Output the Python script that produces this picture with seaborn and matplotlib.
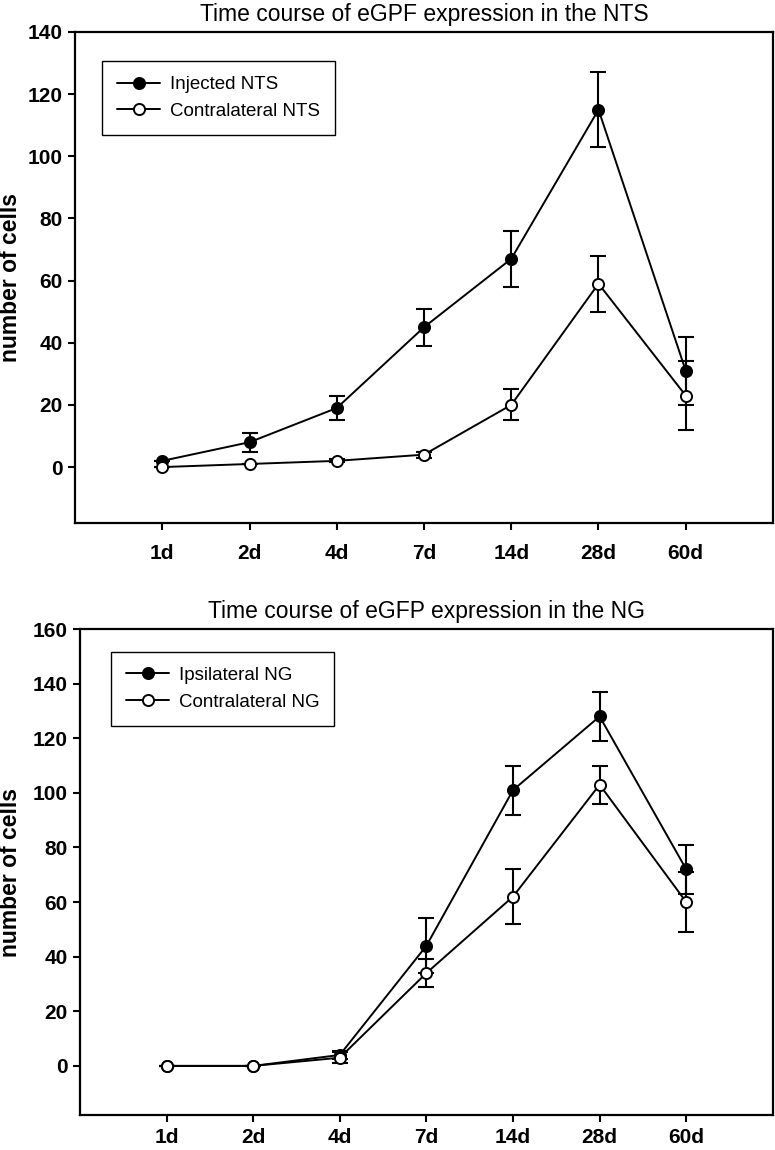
import numpy as np
import pandas as pd
import seaborn as sns
import matplotlib
matplotlib.use("Agg")
import matplotlib.pyplot as plt

# time points
days = ["1d", "2d", "4d", "7d", "14d", "28d", "60d"]

# NTS panel
injected_nts = [2, 8, 19, 45, 67, 115, 31]
injected_nts_err = [0, 3, 4, 6, 9, 12, 11]
contra_nts = [0, 1, 2, 4, 20, 59, 23]
contra_nts_err = [0, 0, 0.5, 1, 5, 9, 11]

# NG panel
ipsi_ng = [0, 0, 4, 44, 101, 128, 72]
ipsi_ng_err = [0, 0, 1.5, 10, 9, 9, 9]
contra_ng = [0, 0, 3, 34, 62, 103, 60]
contra_ng_err = [0, 0, 2, 5, 10, 7, 11]

sns.set_theme(style="ticks")
plt.rcParams['font.family'] = ['Liberation Sans', 'DejaVu Sans']
plt.rcParams['axes.linewidth'] = 1.6
for key in ['text.color', 'axes.labelcolor', 'xtick.color', 'ytick.color',
            'axes.edgecolor']:
    plt.rcParams[key] = 'black'


def draw_panel(ax, title, series, ymax, legend_anchor, xpad):
    x = np.arange(len(days))
    for label, vals, errs, face in series:
        df = pd.DataFrame({'day': x, 'cells': vals})
        ax.errorbar(x, vals, yerr=errs, fmt='none', ecolor='black',
                    elinewidth=1.5, capsize=5.5, capthick=1.5, zorder=2)
        sns.lineplot(data=df, x='day', y='cells', ax=ax, color='black',
                     marker='o', markersize=8, markerfacecolor=face,
                     markeredgecolor='black', markeredgewidth=1.4,
                     linewidth=1.4, label=label, zorder=3)
    ax.set_xlim(-1, 7)
    ax.set_ylim(-18, ymax)
    ax.set_yticks(np.arange(0, ymax + 1, 20))
    ax.set_xticks(x)
    ax.set_xticklabels(days)
    ax.set_xlabel('')
    ax.set_ylabel('number of cells', fontsize=16.5, fontweight='bold')
    ax.set_title(title, fontsize=16.5, pad=8)
    ax.tick_params(axis='y', direction='out', length=5, width=1.5,
                   labelsize=15, pad=4)
    ax.tick_params(axis='x', direction='out', length=5, width=1.5,
                   labelsize=15, pad=xpad)
    for lab in ax.get_xticklabels() + ax.get_yticklabels():
        lab.set_fontweight('bold')
    for sp in ax.spines.values():
        sp.set_visible(True)
        sp.set_color('black')
    leg = ax.legend(loc='upper left', bbox_to_anchor=legend_anchor,
                    borderaxespad=0, fontsize=13.5, handlelength=2.3,
                    handletextpad=0.5, labelspacing=0.5, borderpad=0.8,
                    fancybox=False, framealpha=1, numpoints=1)
    leg.get_frame().set_edgecolor('black')
    leg.get_frame().set_linewidth(1.0)


fig = plt.figure(figsize=(7.75, 11.5), dpi=100)
ax1 = fig.add_axes([0.0968, 0.5452, 0.9006, 0.427])
ax2 = fig.add_axes([0.1032, 0.0304, 0.894, 0.4226])

draw_panel(ax1, 'Time course of eGPF expression in the NTS',
           [('Injected NTS', injected_nts, injected_nts_err, 'black'),
            ('Contralateral NTS', contra_nts, contra_nts_err, 'white')],
           140, (0.039, 0.941), 10)
ax1.yaxis.set_label_coords(-0.076, 0.5)

draw_panel(ax2, 'Time course of eGFP expression in the NG',
           [('Ipsilateral NG', ipsi_ng, ipsi_ng_err, 'black'),
            ('Contralateral NG', contra_ng, contra_ng_err, 'white')],
           160, (0.045, 0.953), 4)
ax2.yaxis.set_label_coords(-0.084, 0.5)

fig.savefig('out.png', dpi=100)
